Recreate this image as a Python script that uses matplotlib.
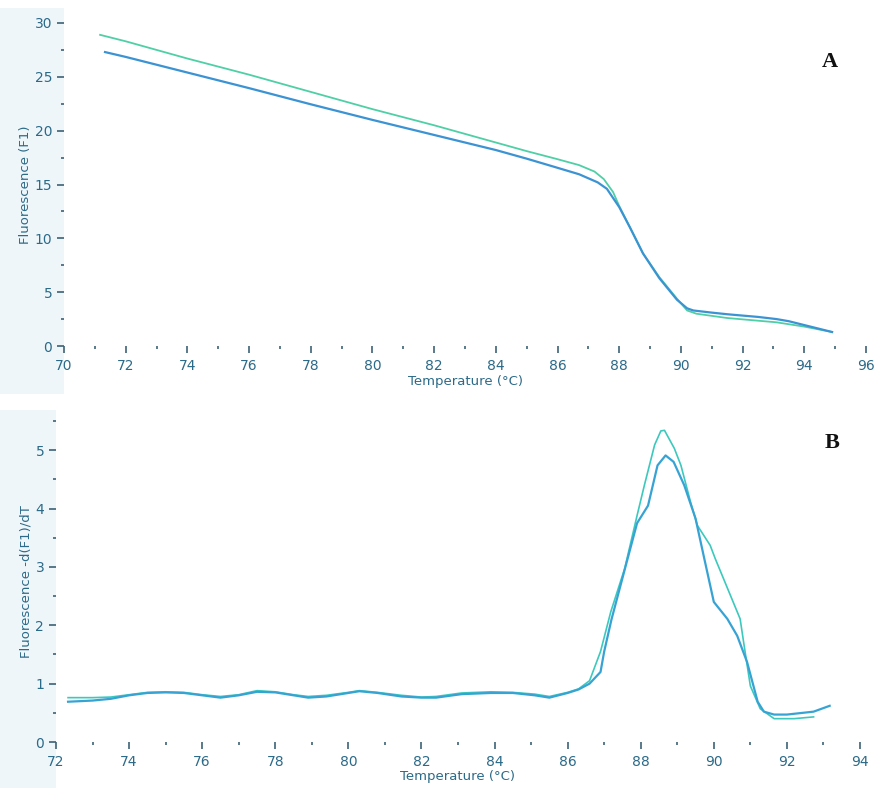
import matplotlib
matplotlib.use("Agg")
import matplotlib.pyplot as plt
from matplotlib.ticker import MultipleLocator

# ---------------- data ----------------
# Panel A: melting curves, Fluorescence (F1) vs Temperature
a_blue_t = [71.33, 72, 74, 76, 78, 80, 82, 84, 85, 86, 86.7, 87.3, 87.6, 88.0, 88.35,
            88.77, 89.3, 89.87, 90.2, 90.4, 91.0, 91.5, 92.5, 93.1, 93.5, 94.2, 94.9]
a_blue_f = [27.3, 26.85, 25.4, 23.95, 22.45, 21.0, 19.6, 18.2, 17.4, 16.55, 15.95, 15.2, 14.6,
            12.9, 11.0, 8.6, 6.3, 4.3, 3.5, 3.3, 3.1, 2.95, 2.7, 2.5, 2.3, 1.8, 1.3]
a_green_t = [71.17, 72, 74, 76, 78, 80, 82, 84, 85, 86, 86.7, 87.2, 87.5, 87.8, 88.0, 88.35,
             88.77, 89.3, 89.87, 90.2, 90.5, 91.5, 93.1, 94.0, 94.9]
a_green_f = [28.9, 28.3, 26.7, 25.2, 23.6, 22.0, 20.5, 18.9, 18.1, 17.35, 16.8, 16.2, 15.5,
             14.3, 13.0, 11.0, 8.6, 6.4, 4.4, 3.3, 3.0, 2.6, 2.2, 1.8, 1.3]

# Panel B: melting peaks, -d(F1)/dT vs Temperature
b_blue_t = [72.33, 73, 73.5, 74, 74.5, 75, 75.5, 76, 76.5, 77, 77.5, 78, 78.5, 78.9, 79.4,
            80.0, 80.3, 80.8, 81.45, 82, 82.4, 83.1, 83.9, 84.5, 85.1, 85.5, 86.0, 86.3, 86.6,
            86.9, 87.0, 87.2, 87.56, 87.9, 88.2, 88.46, 88.68, 88.9, 89.19, 89.5, 89.74, 90.0,
            90.37, 90.64, 90.91, 91.2, 91.37, 91.65, 92.0, 92.73, 93.17]
b_blue_f = [0.69, 0.71, 0.74, 0.80, 0.84, 0.85, 0.84, 0.80, 0.76, 0.80, 0.86, 0.85, 0.80, 0.76,
            0.78, 0.84, 0.87, 0.84, 0.78, 0.76, 0.76, 0.82, 0.84, 0.84, 0.80, 0.76, 0.84, 0.90,
            1.0, 1.2, 1.55, 2.1, 2.95, 3.75, 4.05, 4.74, 4.91, 4.8, 4.4, 3.83, 3.14, 2.4,
            2.11, 1.82, 1.37, 0.69, 0.52, 0.47, 0.47, 0.52, 0.62]
b_green_t = [72.33, 73, 73.5, 74, 74.5, 75, 75.5, 76, 76.5, 77, 77.5, 78, 78.5, 78.9, 79.4,
             80.0, 80.3, 80.8, 81.45, 82, 82.4, 83.1, 83.9, 84.5, 85.1, 85.5, 86.0, 86.3, 86.6,
             86.9, 87.18, 87.56, 87.9, 88.1, 88.38, 88.55, 88.65, 88.92, 89.1, 89.36, 89.55,
             89.9, 90.04, 90.72, 90.83, 91.0, 91.27, 91.65, 92.2, 92.73]
b_green_f = [0.76, 0.76, 0.77, 0.81, 0.85, 0.86, 0.85, 0.81, 0.78, 0.81, 0.88, 0.86, 0.81,
             0.78, 0.80, 0.85, 0.88, 0.85, 0.80, 0.77, 0.78, 0.84, 0.86, 0.85, 0.82, 0.78,
             0.85, 0.91, 1.05, 1.55, 2.23, 2.97, 3.88, 4.4, 5.09, 5.33, 5.34, 5.03, 4.74,
             4.12, 3.71, 3.37, 3.14, 2.11, 1.65, 0.96, 0.57, 0.40, 0.40, 0.43]

a_xticks = list(range(70, 97, 2))
a_yticks = [0, 5, 10, 15, 20, 25, 30]
b_xticks = list(range(72, 95, 2))
b_yticks = [0, 1, 2, 3, 4, 5]

# ---------------- style ----------------
LBL = "#2b6a88"
TICK = "#3d6275"
BLUE = "#3b93d3"
GREEN = "#4fcfa6"
BLUE_B = "#37a3d4"
GREEN_B = "#3cc9bd"
FAM = ["Liberation Sans Narrow", "DejaVu Sans"]

fig = plt.figure(figsize=(8.74, 7.88), dpi=100)
fig.patch.set_facecolor("white")

# light panel strips like the instrument software (kept behind everything)
r1 = plt.Rectangle((0.0, 0.50), 0.073, 0.49, transform=fig.transFigure,
                   facecolor="#eef6fa", edgecolor="none", zorder=-10)
r2 = plt.Rectangle((0.0, 0.0), 0.064, 0.48, transform=fig.transFigure,
                   facecolor="#eef6fa", edgecolor="none", zorder=-10)
fig.add_artist(r1)
fig.add_artist(r2)

axA = fig.add_axes([64 / 874, 1 - 346 / 788, 802 / 874, (346 - 23) / 788])
axB = fig.add_axes([56 / 874, 1 - 742 / 788, 804 / 874, (742 - 421) / 788])


def style(ax, xlim, ylim, xt, yt, xminor, yminor):
    ax.set_xlim(*xlim)
    ax.set_ylim(*ylim)
    for s in ax.spines.values():
        s.set_visible(False)
    ax.set_xticks(xt)
    ax.set_yticks(yt)
    ax.xaxis.set_minor_locator(MultipleLocator(xminor))
    ax.yaxis.set_minor_locator(MultipleLocator(yminor))
    ax.tick_params(axis="both", which="major", direction="out", colors=TICK,
                   labelcolor=LBL, labelsize=10, length=5, width=1.2)
    ax.tick_params(axis="x", which="major", pad=4)
    ax.tick_params(axis="both", which="minor", direction="out", colors=TICK,
                   length=2.5, width=1.2)
    for lab in ax.get_xticklabels() + ax.get_yticklabels():
        lab.set_family(FAM)
    ax.patch.set_alpha(0)


style(axA, (70, 96), (0, 30), a_xticks, a_yticks, 1, 2.5)
axA.plot(a_green_t, a_green_f, color=GREEN, lw=1.3, zorder=3)
axA.plot(a_blue_t, a_blue_f, color=BLUE, lw=1.6, zorder=4)
axA.set_xlabel("Temperature (°C)", color=LBL, fontsize=9.5, family=FAM, labelpad=2)
axA.set_ylabel("Fluorescence (F1)", color=LBL, fontsize=9.5, family=FAM, labelpad=2)
axA.text(0.955, 0.88, "A", transform=axA.transAxes, fontsize=16, fontweight="bold",
         family="Liberation Serif", color="#111111", ha="center", va="center")

style(axB, (72, 94), (0, 5.5), b_xticks, b_yticks, 1, 0.5)
axB.plot(b_green_t, b_green_f, color=GREEN_B, lw=1.2, zorder=3)
axB.plot(b_blue_t, b_blue_f, color=BLUE_B, lw=1.6, zorder=4)
axB.set_xlabel("Temperature (°C)", color=LBL, fontsize=9.5, family=FAM, labelpad=1)
axB.set_ylabel("Fluorescence -d(F1)/dT", color=LBL, fontsize=9.5, family=FAM, labelpad=2)
axB.text(0.965, 0.93, "B", transform=axB.transAxes, fontsize=16, fontweight="bold",
         family="Liberation Serif", color="#111111", ha="center", va="center")

fig.savefig("out.png", dpi=100, facecolor="white")
